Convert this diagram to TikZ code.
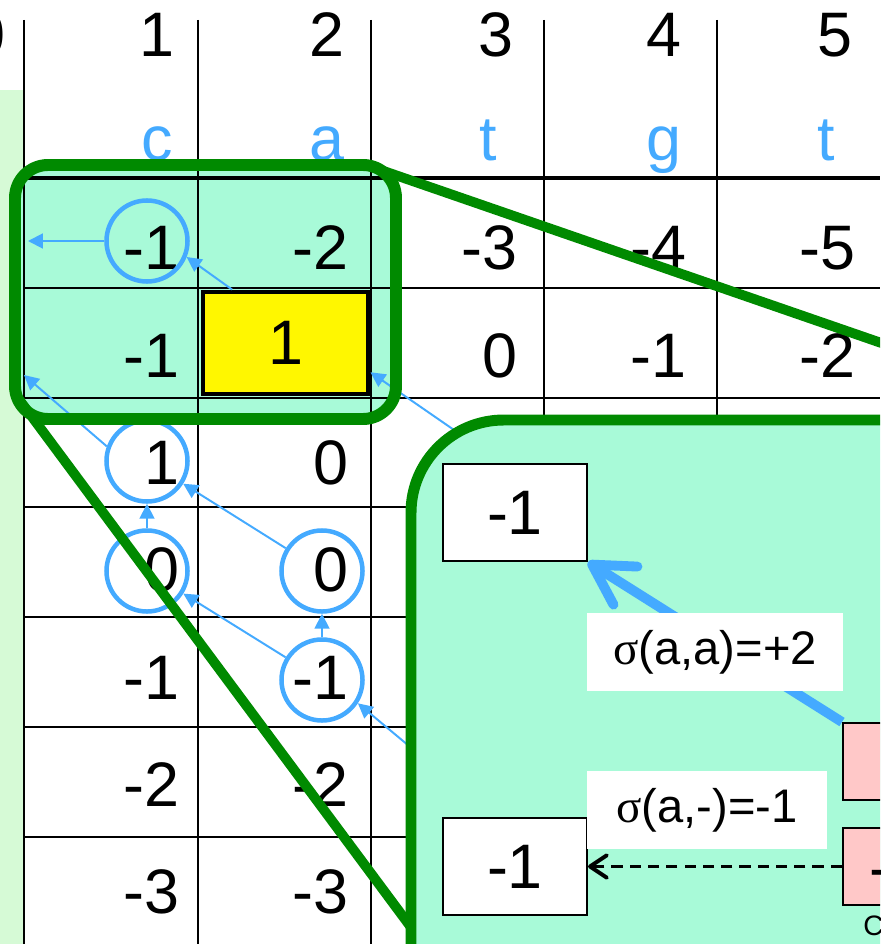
\documentclass[tikz,border=0pt]{standalone}
\usepackage{fontspec}
\setmainfont{Liberation Sans}
\newfontfamily\greekfont{Liberation Serif}
\usetikzlibrary{arrows.meta}

\definecolor{zoomgreen}{HTML}{008A00}
\definecolor{mint}{HTML}{A8FAD8}
\definecolor{palegreen}{HTML}{D6FAD6}
\definecolor{traceblue}{HTML}{44AAFF}
\definecolor{cellyellow}{HTML}{FFF700}
\definecolor{cellpink}{HTML}{FFC8C8}

\newcommand{\tabfont}{\fontsize{44.7pt}{50pt}\selectfont}
\newcommand{\lblfont}{\fontsize{33.5pt}{38pt}\selectfont}

\begin{document}
\begin{tikzpicture}[x=0.025cm, y=-0.025cm,
    num/.style={font=\tabfont, anchor=base east, inner sep=0pt},
    head/.style={font=\tabfont, anchor=base, inner sep=0pt},
    letter/.style={head, text=traceblue},
    ring/.style={circle, draw=traceblue, line width=3.2pt, minimum size=2.025cm, inner sep=0pt},
    trace/.style={draw=traceblue, line width=1.4pt, -{Triangle[length=10.5pt, width=10.5pt]}},
    cellbox/.style={draw, line width=1.4pt, fill=white, minimum width=3.6cm, minimum height=2.425cm, font=\tabfont, inner sep=0pt},
    pinkbox/.style={cellbox, fill=cellpink, minimum height=1.925cm},
    scorebox/.style={fill=white, font=\lblfont, inner sep=0pt, minimum height=1.95cm}]

    \useasboundingbox (0,0) rectangle (880,944);
    \clip (0,0) rectangle (880,944);

    % pale strip and zoom window
    \fill[palegreen] (0,90) rectangle (24,944);
    \fill[mint, rounded corners=23.5pt] (15,165) rectangle (396,419);

    % grid
    \foreach \x in {24,198,371,544,717}
        \draw[line width=1.4pt] (\x,20) -- (\x,944);
    \foreach \y in {288,398,507,617,727,837}
        \draw[line width=1.4pt] (24,\y) -- (880,\y);
    \draw[line width=3.5pt] (24,178) -- (880,178);

    % column numbers and sequence
    \foreach \col/\x in {0/-12,1/157,2/327,3/496,4/664,5/835}
        \node[head] (h\col) at (\x,57) {\col};
    \foreach \ch/\x [count=\i] in {c/157,a/327,t/488,g/664,t/826}
        \node[letter] (s\i) at (\x,161) {\ch};

    % scores
    \foreach \row/\col/\v in {1/1/-1,1/2/-2,1/3/-3,1/4/-4,1/5/-5,
                              2/1/-1,2/3/0,2/4/-1,2/5/-2,
                              3/1/1,3/2/0,4/1/0,4/2/0,5/1/-1,5/2/-1,
                              6/1/-2,6/2/-2,7/1/-3,7/2/-3}
        \node[num] (v\row\col) at ({180+169*(\col-1)},{270+107.3*(\row-1)}) {\v};
    \node[draw, line width=3.5pt, fill=cellyellow, minimum width=4.125cm, minimum height=2.55cm,
          font=\tabfont, inner sep=0pt] (yel) at (285.5,343) {1};

    % traceback
    \node[ring] (o11) at (147,241) {};
    \node[ring] (o31) at (147,461) {};
    \node[ring] (o41) at (147,571) {};
    \node[ring] (o42) at (322,571) {};
    \node[ring] (o52) at (322,680) {};
    \coordinate (e10) at (28,241);
    \coordinate (t20) at (24,375);
    \coordinate (h33) at (470,441);
    \coordinate (h63) at (457,786);

    \draw[trace] (o11) -- (e10);
    \draw[trace] (yel.135) -- (o11.-22);
    \draw[trace] (o31.160) -- (t20);
    \draw[trace] (h33) -- (yel.-19);
    \draw[trace] (o42) -- (o31);
    \draw[trace] (o41) -- (o31);
    \draw[trace] (o52) -- (o41);
    \draw[trace] (o52) -- (o42);
    \draw[trace] (h63) -- (o52.-33);

    % zoom window and its rays
    \draw[zoomgreen, line width=8.5pt, rounded corners=23.5pt] (15,165) rectangle (396,419);
    \coordinate (zt) at (372,167);
    \coordinate (zb) at (18,398);
    \coordinate (zt') at (1000,384);
    \coordinate (zb') at (465,1000);
    \draw[zoomgreen, line width=7pt] (zt) -- (zt');
    \draw[zoomgreen, line width=7pt] (zb) -- (zb');

    % magnified view
    \draw[zoomgreen, fill=mint, line width=7.8pt, rounded corners=66pt] (411,420) rectangle (1100,1100);
    \node[cellbox] (w11) at (515,512.5) {-1};
    \node[cellbox] (w21) at (515,866.5) {-1};
    \node[pinkbox] (p12) at (915,761.5) {};
    \node[pinkbox] (p22) at (915,866.5) {};
    \node[num, anchor=base west] (p22v) at (869,889) {-2};

    \draw[traceblue, line width=7pt, -{Straight Barb[round, length=28pt, width=32pt]}] (p12.north west) -- (w11.south east);
    \draw[line width=1.8pt, dash pattern=on 8pt off 5pt,
          -{Straight Barb[round, length=12pt, width=16pt, line width=2.8pt]}] (p22.west) -- (w21.east);

    \node[scorebox, minimum width=6.4cm] (sgaa) at (715,652) {{\greekfont σ}(a,a)=+2};
    \node[scorebox, minimum width=6cm] (sgag) at (707,810) {{\greekfont σ}(a,-)=-1};
    \node[font=\fontsize{20pt}{24pt}\selectfont, anchor=base west, inner sep=0pt] (cnote) at (863,935) {C};

\end{tikzpicture}
\end{document}
